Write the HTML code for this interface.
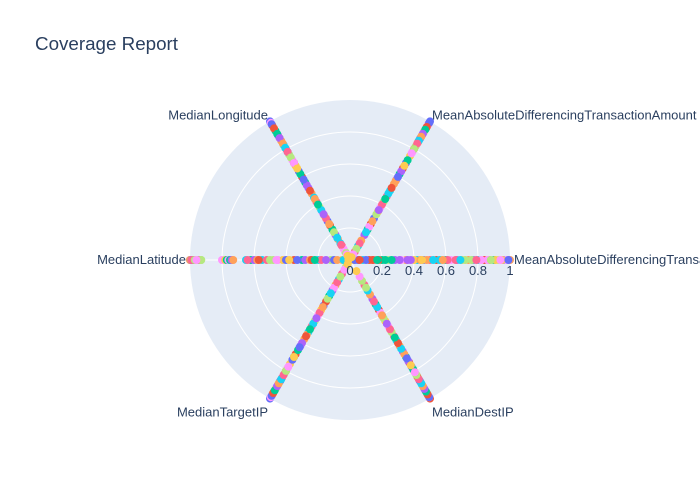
<!DOCTYPE html>
<html><head><meta charset="utf-8">
<style>
body{margin:0;background:#fff;}
svg{display:block;font-family:"Liberation Sans",Arial,sans-serif;}
</style></head>
<body>
<svg id="chart" width="700" height="500" viewBox="0 0 700 500">
<rect width="700" height="500" fill="#fff"/>
<text x="35" y="50" font-size="18.8" fill="#2a3f5f">Coverage Report</text>
<g id="grid"></g>
<g id="points"></g>
<g id="labels"></g>
</svg>
<script>
const categories=["MeanAbsoluteDifferencingTransactionAmountPerDay","MeanAbsoluteDifferencingTransactionAmount","MedianLongitude","MedianLatitude","MedianTargetIP","MedianDestIP"];
const axisAngles=[0,60,120,180,240,300];
const radialTicks=[0,0.2,0.4,0.6,0.8,1];
const tickLabels=["0","0.2","0.4","0.6","0.8","1"];
const colors=["#636efa","#EF553B","#00cc96","#ab63fa","#FFA15A","#19d3f3","#FF6692","#B6E880","#FF97FF","#FECB52"];
const seriesValues=[
[0.05,1.00,1.00,1.00,1.00,0.98],
[0.12,0.98,0.97,0.99,0.97,1.00],
[0.20,0.95,0.93,0.98,0.95,0.96],
[0.28,0.92,0.90,0.97,0.92,0.94],
[0.35,0.90,0.86,0.96,0.90,0.92],
[0.42,0.87,0.83,0.95,0.88,0.90],
[0.50,0.85,0.80,0.94,0.85,0.88],
[0.57,0.82,0.76,0.93,0.82,0.85],
[0.63,0.78,0.72,0.80,0.78,0.82],
[0.70,0.75,0.68,0.78,0.75,0.80],
[0.77,0.70,0.64,0.76,0.72,0.77],
[0.84,0.66,0.60,0.74,0.68,0.74],
[0.90,0.62,0.56,0.62,0.65,0.70],
[0.96,0.58,0.52,0.60,0.62,0.66],
[1.00,0.55,0.48,0.58,0.57,0.62],
[0.08,0.50,0.45,0.55,0.52,0.58],
[0.15,0.46,0.42,0.52,0.48,0.55],
[0.24,0.42,0.38,0.50,0.44,0.52],
[0.32,0.38,0.35,0.45,0.40,0.48],
[0.40,0.35,0.32,0.42,0.36,0.44],
[0.46,0.30,0.28,0.40,0.33,0.40],
[0.54,0.26,0.25,0.35,0.30,0.36],
[0.60,0.22,0.22,0.30,0.26,0.32],
[0.67,0.18,0.18,0.28,0.22,0.28],
[0.74,0.14,0.15,0.25,0.18,0.25],
[0.80,0.10,0.12,0.20,0.14,0.22],
[0.87,0.06,0.10,0.18,0.10,0.18],
[0.93,0.03,0.06,0.12,0.05,0.15],
[0.98,0.97,0.99,0.02,0.99,0.99],
[0.02,0.93,0.88,0.05,0.93,0.95],
[0.10,0.88,0.78,0.10,0.87,0.87],
[0.18,0.80,0.70,0.57,0.80,0.84],
[0.26,0.72,0.62,0.77,0.70,0.79],
[0.38,0.64,0.54,0.98,0.60,0.73],
[0.48,0.57,0.44,1.00,0.54,0.68],
[0.56,0.48,0.36,0.99,0.46,0.64],
[0.66,0.40,0.30,0.97,0.38,0.50],
[0.76,0.33,0.20,0.93,0.28,0.42],
[0.86,0.24,0.08,0.76,0.20,0.38],
[0.95,0.85,0.95,0.96,0.96,0.97],
[0.03,0.99,0.98,0.99,0.98,0.99],
[0.14,0.96,0.95,0.97,0.96,0.97],
[0.22,0.94,0.91,0.75,0.94,0.95],
[0.31,0.91,0.88,0.74,0.91,0.93],
[0.44,0.89,0.84,0.73,0.89,0.91],
[0.52,0.86,0.81,0.65,0.86,0.89],
[0.61,0.84,0.78,0.64,0.83,0.86],
[0.72,0.80,0.74,0.48,0.80,0.83],
[0.82,0.77,0.70,0.46,0.77,0.81],
[0.91,0.68,0.66,0.38,0.70,0.76],
[0.99,0.60,0.58,0.33,0.63,0.71],
[0.06,0.52,0.50,0.24,0.55,0.60],
[0.17,0.44,0.40,0.22,0.50,0.56],
[0.36,0.36,0.33,0.15,0.42,0.46],
[0.58,0.28,0.26,0.08,0.34,0.40],
[0.69,0.20,0.16,0.04,0.24,0.34],
[0.79,0.12,0.11,0.99,0.16,0.30],
[0.88,0.08,0.05,0.97,0.12,0.20],
[0.94,0.04,0.04,0.96,0.07,0.12],
[0.45,0.02,0.03,0.01,0.03,0.08]
];
const NS="http://www.w3.org/2000/svg";
const cx=350,cy=260,R=160;
function rScale(v){return v*R;}
function pos(v,deg){const a=deg*Math.PI/180;return [cx+rScale(v)*Math.cos(a),cy-rScale(v)*Math.sin(a)];}
function mk(tag,attrs){const e=document.createElementNS(NS,tag);for(const k in attrs)e.setAttribute(k,attrs[k]);return e;}
const grid=document.getElementById('grid');
const bg=mk('circle',{cx:cx,cy:cy,r:R,fill:'#e5ecf6'});


grid.appendChild(bg);
radialTicks.forEach(t=>{
  if(t>0&&t<1){
    const c=mk('circle',{cx:cx,cy:cy,r:rScale(t),fill:'none',stroke:'#fff','stroke-width':1});
    
    
    grid.appendChild(c);
  }
});
axisAngles.forEach(a=>{
  const p=pos(1,a);
  const l=mk('line',{x1:cx,y1:cy,x2:p[0],y2:p[1],stroke:'#fff','stroke-width':1});
  
  
  grid.appendChild(l);
});
const pts=document.getElementById('points');
seriesValues.forEach((row,si)=>{
  const g=mk('g',{});
  
  
  row.forEach((v,j)=>{
    const p=pos(v,axisAngles[j]);
    const c=mk('circle',{cx:p[0].toFixed(1),cy:p[1].toFixed(1),r:4,fill:colors[si%colors.length]});
    
    
    g.appendChild(c);
  });
  pts.appendChild(g);
});
const labels=document.getElementById('labels');
radialTicks.forEach((t,i)=>{
  const tx=mk('text',{x:cx+rScale(t),y:cy+15,'font-size':13,fill:'#2a3f5f','text-anchor':'middle'});
  tx.textContent=tickLabels[i];
  
  
  labels.appendChild(tx);
});
categories.forEach((c,i)=>{
  const a=axisAngles[i];
  const p=pos(1,a);
  let x=p[0],y=p[1]+4,anchor='middle';
  if(a===0){x+=4;anchor='start';}
  else if(a===180){x-=4;anchor='end';}
  else if(a===60){x+=2;y-=6;anchor='start';}
  else if(a===120){x-=2;y-=6;anchor='end';}
  else if(a===240){x-=2;y+=14;anchor='end';}
  else if(a===300){x+=2;y+=14;anchor='start';}
  const tx=mk('text',{x:x,y:y,'font-size':13,fill:'#2a3f5f','text-anchor':anchor});
  tx.textContent=c;
  
  
  labels.appendChild(tx);
});
</script>
</body></html>
